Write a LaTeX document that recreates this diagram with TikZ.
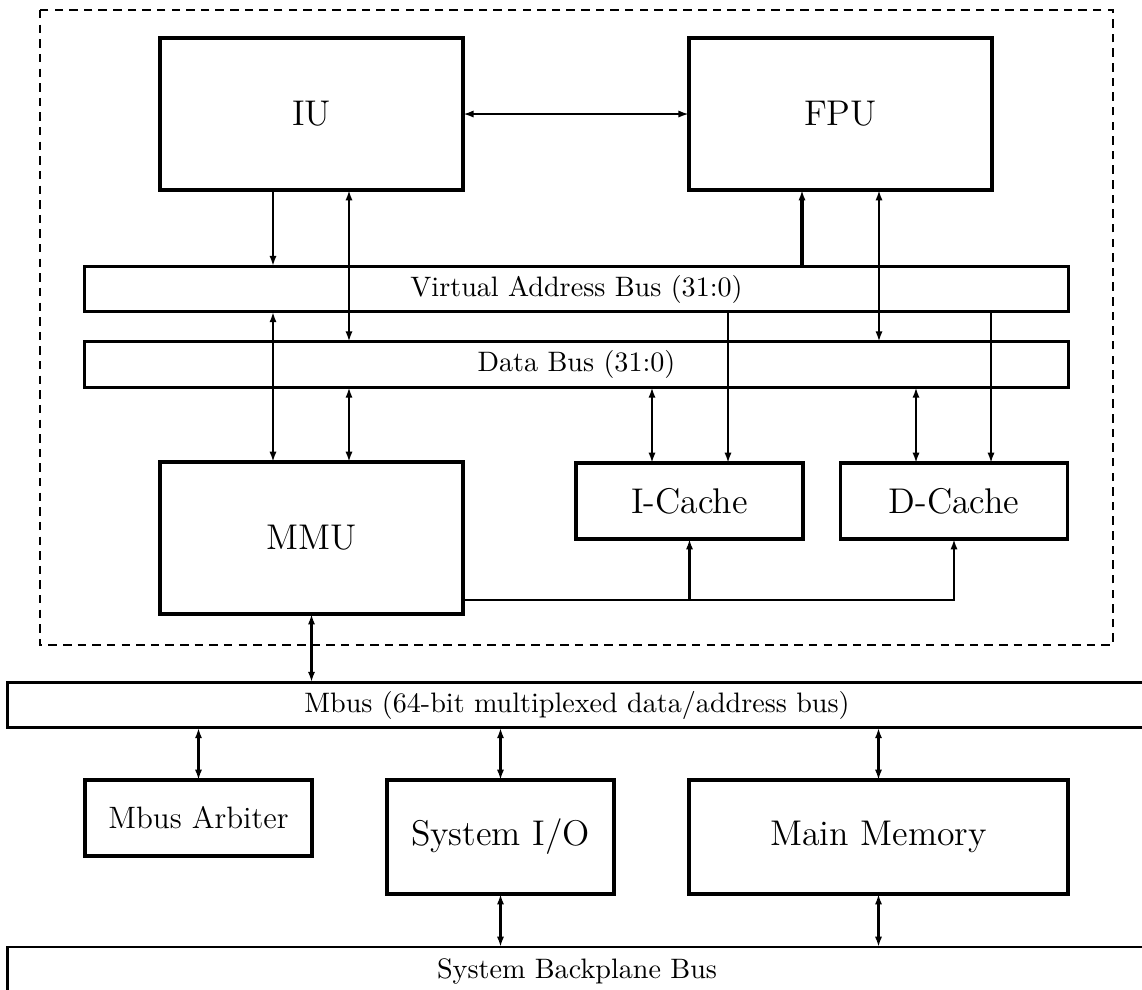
\documentclass[tikz,border=0pt]{standalone}
\usepackage{tikz}
\usetikzlibrary{arrows.meta}

\begin{document}
\begin{tikzpicture}[x=0.0125cm, y=-0.0125cm,
  unit/.style={rectangle, draw=black, line width=1.2pt, align=center,
             inner sep=2pt, outer sep=0pt, font=\fontsize{12.7pt}{15pt}\selectfont},
  bus/.style={rectangle, draw=black, line width=1.1pt, align=center,
             inner sep=2pt, outer sep=0pt, minimum height=0.57cm, font=\normalsize},
  sysbus/.style={bus, line width=1pt, minimum width=14.225cm},
  frame/.style={draw=black, line width=0.8pt, dash pattern=on 3pt off 2.2pt},
  arr/.style={-{Latex[length=1.3mm,width=0.9mm]}, thick},
  darr/.style={{Latex[length=1.3mm,width=0.9mm]}-{Latex[length=1.3mm,width=0.9mm]}, thick},
]
\useasboundingbox (0,0) rectangle (1142,989);
\clip (0,0) rectangle (1142,989);

% --- processor chip ---
\draw[frame] (40,10) rectangle (1113,645);

\node[unit, minimum width=3.79cm, minimum height=1.9cm] (iu)  at (311.5,114) {IU};
\node[unit, minimum width=3.79cm, minimum height=1.9cm] (fpu) at (840.5,114) {FPU};

\node[bus, minimum width=12.29cm] (vab)  at (576.5,289)   {Virtual Address Bus (31:0)};
\node[bus, minimum width=12.29cm] (dbus) at (576.5,364.5) {Data Bus (31:0)};

\node[unit, minimum width=3.79cm, minimum height=1.9cm]  (mmu)    at (311.5,538) {MMU};
\node[unit, minimum width=2.84cm, minimum height=0.95cm] (icache) at (689.5,501) {I-Cache};
\node[unit, minimum width=2.84cm, minimum height=0.95cm] (dcache) at (954,501)   {D-Cache};

% --- system side ---
\node[sysbus] (mbus) at (577,705) {Mbus (64-bit multiplexed data/address bus)};
\node[unit, minimum width=2.84cm, minimum height=0.95cm,
      font=\fontsize{11pt}{13pt}\selectfont] (arb) at (198.5,818) {Mbus Arbiter};
\node[unit, minimum width=2.84cm, minimum height=1.425cm] (sysio) at (500.5,837) {System I/O};
\node[unit, minimum width=4.74cm, minimum height=1.425cm] (mem)   at (878.5,837) {Main Memory};
\node[sysbus, minimum height=0.6cm] (bpb) at (577,971) {System Backplane Bus};

% columns of the bus taps
\coordinate (c1) at (273,0);
\coordinate (c2) at (349,0);
\coordinate (c3) at (652,0);
\coordinate (c4) at (728,0);
\coordinate (c5) at (802,0);
\coordinate (c6) at (879,0);
\coordinate (c7) at (916,0);
\coordinate (c8) at (991,0);
\coordinate (r)  at (0,600);

% --- arrows, chip ---
\draw[darr] (iu.east) -- (fpu.west);
\draw[arr]  (c1 |- iu.south) -- (c1 |- vab.north);
\draw[darr] (c1 |- vab.south) -- (c1 |- mmu.north);
\draw[darr] (c2 |- iu.south) -- (c2 |- dbus.north);
\draw[darr] (c2 |- dbus.south) -- (c2 |- mmu.north);
\draw[darr] (c3 |- dbus.south) -- (c3 |- icache.north);
\draw[arr]  (c4 |- vab.south) -- (c4 |- icache.north);
\draw[arr, very thick] (c5 |- vab.north) -- (c5 |- fpu.south);
\draw[darr] (c6 |- fpu.south) -- (c6 |- dbus.north);
\draw[darr] (c7 |- dbus.south) -- (c7 |- dcache.north);
\draw[arr]  (c8 |- vab.south) -- (c8 |- dcache.north);
\draw[arr]  (mmu.east |- r) -| (dcache.south);
\draw[arr]  (icache.south |- r) -- (icache.south);

% --- arrows, system ---
\draw[darr] (mmu.south) -- (mmu.south |- mbus.north);
\draw[darr, very thick] (arb.north) -- (arb.north |- mbus.south);
\draw[darr] (sysio.north) -- (sysio.north |- mbus.south);
\draw[darr] (mem.north) -- (mem.north |- mbus.south);
\draw[darr] (sysio.south) -- (sysio.south |- bpb.north);
\draw[darr] (mem.south) -- (mem.south |- bpb.north);

\end{tikzpicture}
\end{document}
